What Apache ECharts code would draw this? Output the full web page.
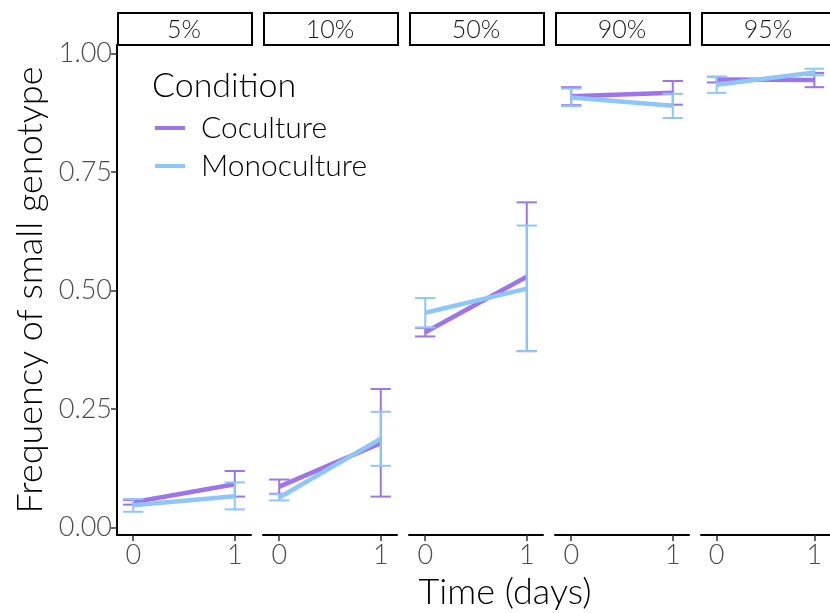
<!DOCTYPE html>
<html>
<head>
<meta charset="utf-8">
<script src="https://cdn.jsdelivr.net/npm/echarts@6/dist/echarts.min.js"></script>
<style>
  html, body { margin: 0; padding: 0; background: #fff; }
  #chart { width: 830px; height: 613px; }
</style>
</head>
<body>
<div id="chart"></div>
<script>
// facet labels and time points
const panels = ["5%", "10%", "50%", "90%", "95%"];
const times = [0, 1];
const yTicks = [0, 0.25, 0.5, 0.75, 1];

// Coculture: mean and error bar limits, one pair [day0, day1] per panel
const cocultureMean = [[0.053, 0.091], [0.086, 0.178], [0.412, 0.529], [0.910, 0.917], [0.945, 0.944]];
const cocultureLow  = [[0.048, 0.065], [0.071, 0.065], [0.403, 0.372], [0.891, 0.892], [0.939, 0.929]];
const cocultureHigh = [[0.058, 0.119], [0.101, 0.292], [0.421, 0.686], [0.929, 0.942], [0.951, 0.959]];

// Monoculture
const monoMean = [[0.047, 0.066], [0.063, 0.187], [0.453, 0.504], [0.907, 0.890], [0.934, 0.960]];
const monoLow  = [[0.033, 0.038], [0.057, 0.130], [0.422, 0.372], [0.889, 0.864], [0.917, 0.954]];
const monoHigh = [[0.060, 0.095], [0.070, 0.244], [0.484, 0.637], [0.926, 0.915], [0.951, 0.968]];

const COC = "#9d74ea";
const MONO = "#8fc6fa";
const FONT = "Lato";

const myChart = echarts.init(document.getElementById("chart"));

const gridLeft0 = 117, gridStep = 146, gridW = 134, gridTop = 45, gridH = 490;

const grids = [], xAxes = [], yAxes = [], series = [], graphics = [];

function errorBars(name, color, idx, low, high, z) {
  return {
    name: name,
    type: "custom",
    xAxisIndex: idx,
    yAxisIndex: idx,
    z: z,
    data: times.map((t, k) => [t, low[idx][k], high[idx][k]]),
    renderItem: function (params, api) {
      const x = api.value(0);
      const lo = api.coord([x, api.value(1)]);
      const hi = api.coord([x, api.value(2)]);
      const l = api.coord([x - 0.1, api.value(1)])[0];
      const r = api.coord([x + 0.1, api.value(1)])[0];
      const st = { stroke: color, lineWidth: 2 };
      return {
        type: "group",
        children: [
          { type: "line", shape: { x1: lo[0], y1: lo[1], x2: hi[0], y2: hi[1] }, style: st },
          { type: "line", shape: { x1: l, y1: lo[1], x2: r, y2: lo[1] }, style: st },
          { type: "line", shape: { x1: l, y1: hi[1], x2: r, y2: hi[1] }, style: st },
        ],
      };
    },
  };
}

panels.forEach((p, i) => {
  const left = gridLeft0 + i * gridStep;
  grids.push({ left: left, top: gridTop, width: gridW, height: gridH, containLabel: false });
  xAxes.push({
    type: "value",
    gridIndex: i,
    min: -0.16,
    max: 1.16,
    splitLine: { show: false },
    axisLine: { onZero: false, lineStyle: { color: "#000", width: 2 } },
    axisTick: { customValues: times, length: 6, lineStyle: { color: "#333", width: 1.5 } },
    axisLabel: { customValues: times, color: "#4d4d4d", fontSize: 27, fontFamily: FONT, fontWeight: 300, margin: 7 },
  });
  yAxes.push({
    type: "value",
    gridIndex: i,
    min: -0.016,
    max: 1.018,
    splitLine: { show: false },
    axisLine: { show: i === 0, onZero: false, lineStyle: { color: "#000", width: 2 } },
    axisTick: { show: i === 0, customValues: yTicks, length: 6, lineStyle: { color: "#333", width: 1.5 } },
    axisLabel: {
      show: i === 0,
      customValues: yTicks,
      color: "#4d4d4d",
      fontSize: 27,
      fontFamily: FONT,
      fontWeight: 300,
      margin: 5,
      formatter: (v) => v.toFixed(2),
    },
  });

  series.push({
    name: "Coculture",
    type: "line",
    xAxisIndex: i,
    yAxisIndex: i,
    z: 2,
    showSymbol: false,
    lineStyle: { color: COC, width: 4.5 },
    itemStyle: { color: COC },
    data: times.map((t, k) => [t, cocultureMean[i][k]]),
  });
  series.push(errorBars("Coculture", COC, i, cocultureLow, cocultureHigh, 2));
  series.push({
    name: "Monoculture",
    type: "line",
    xAxisIndex: i,
    yAxisIndex: i,
    z: 3,
    showSymbol: false,
    lineStyle: { color: MONO, width: 4.5 },
    itemStyle: { color: MONO },
    data: times.map((t, k) => [t, monoMean[i][k]]),
  });
  series.push(errorBars("Monoculture", MONO, i, monoLow, monoHigh, 3));

  // facet strip
  graphics.push({
    type: "rect",
    left: left,
    top: 12,
    shape: { width: gridW, height: 32 },
    style: { fill: "#fff", stroke: "#000", lineWidth: 2 },
  });
  graphics.push({
    type: "text",
    x: left + gridW / 2,
    y: 30,
    style: {
      text: p,
      fontSize: 25,
      fontFamily: FONT,
      fontWeight: 300,
      fill: "#1a1a1a",
      align: "center",
      verticalAlign: "middle",
    },
  });
});

graphics.push({
  type: "text",
  x: 505,
  y: 592,
  style: { text: "Time (days)", fontSize: 36, fontFamily: FONT, fontWeight: 300, fill: "#000", align: "center", verticalAlign: "middle" },
});
graphics.push({
  type: "text",
  x: 30,
  y: 290,
  rotation: Math.PI / 2,
  style: { text: "Frequency of small genotype", fontSize: 36, fontFamily: FONT, fontWeight: 300, fill: "#000", align: "center", verticalAlign: "middle" },
});
graphics.push({
  type: "text",
  x: 152,
  y: 86,
  style: { text: "Condition", fontSize: 34, fontFamily: FONT, fontWeight: 300, fill: "#000", align: "left", verticalAlign: "middle" },
});

const option = {
  animation: false,
  grid: grids,
  xAxis: xAxes,
  yAxis: yAxes,
  legend: {
    data: ["Coculture", "Monoculture"],
    orient: "vertical",
    left: 155,
    top: 113,
    padding: 0,
    icon: "rect",
    itemWidth: 30,
    itemHeight: 4,
    itemGap: 8,
    textStyle: { fontSize: 30, lineHeight: 30, fontFamily: FONT, fontWeight: 300, color: "#000", padding: [0, 0, 0, 11] },
  },
  graphic: graphics,
  series: series,
};

option && myChart.setOption(option);
</script>
</body>
</html>
